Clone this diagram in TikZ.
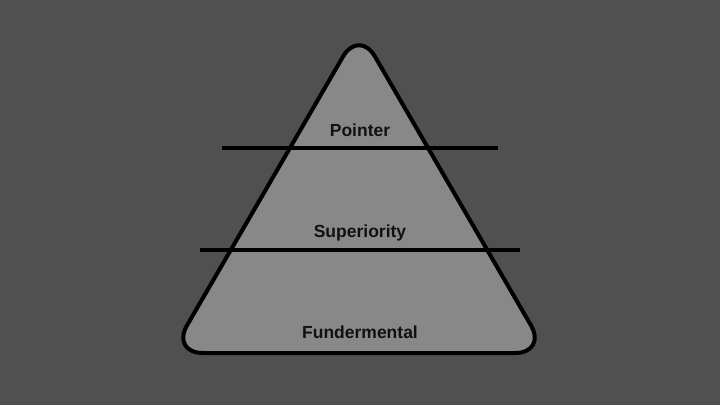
\documentclass[tikz,border=0pt]{standalone}
\usepackage{fontspec}
\setmainfont{Liberation Sans}
\definecolor{bgcol}{RGB}{80,80,80}
\definecolor{pyrcol}{RGB}{136,136,136}
\definecolor{txtcol}{RGB}{17,17,17}
\begin{document}
\begin{tikzpicture}[x=1pt,y=-1pt]

      \fill[bgcol] (0,0) rectangle (720,405);
      \useasboundingbox (0,0) rectangle (720,405);

      \coordinate (top)   at (359,29);
      \coordinate (left)  at (171,353);
      \coordinate (right) at (547,353);

      \draw[line width=4pt, fill=pyrcol, rounded corners=32pt, line join=round]
        (top) -- (left) -- (right) -- cycle;

      \begin{scope}[line width=3.5pt]
        \coordinate (a1) at (222,148);
        \coordinate (a2) at (498,148);
        \coordinate (b1) at (200,250);
        \coordinate (b2) at (520,250);
        \draw (a1) -- (a2);
        \draw (b1) -- (b2);
      \end{scope}

      \begin{scope}[every node/.style={anchor=base, text=txtcol, font=\fontsize{17.5}{20}\selectfont\bfseries}]
        \node (pointer) at (360,136.5) {Pointer};
        \node (super)   at (360,237) {Superiority};
        \node (fund)    at (360,338.5) {Fundermental};
      \end{scope}

    \end{tikzpicture}
\end{document}
